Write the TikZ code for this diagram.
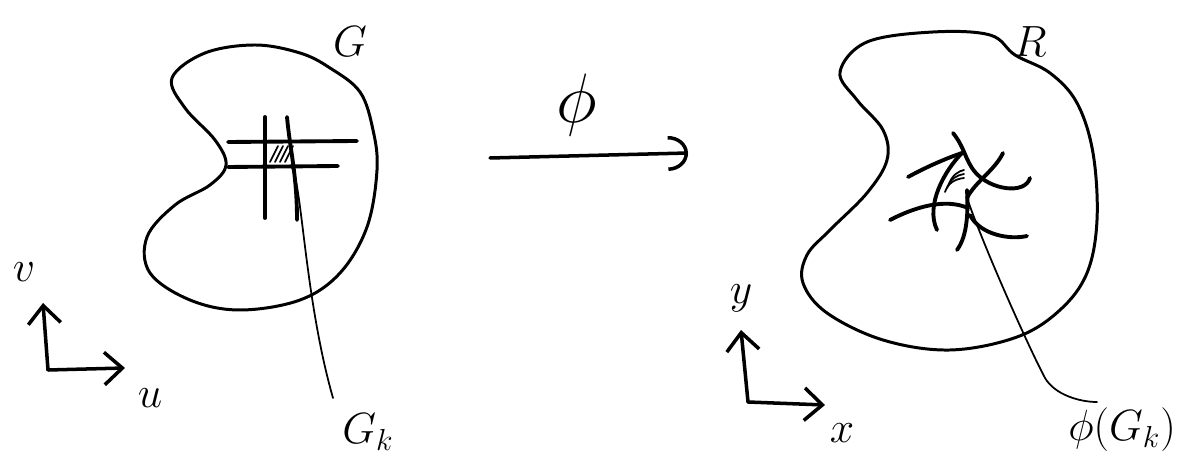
\documentclass[tikz,border=0pt]{standalone}
\usepackage{amsmath}
\usetikzlibrary{arrows.meta}

\tikzset{
  lbl/.style={font=\fontsize{26}{30}\selectfont},
  blob/.style={line width=1.7pt},
  gridln/.style={line width=2.2pt},
  thinln/.style={line width=1pt},
  axis/.style={line width=2pt,-{Straight Barb[length=3.6mm,width=6.5mm,line width=2pt]}}
}

\begin{document}
\begin{tikzpicture}[x=0.2mm,y=-0.2mm,line cap=round,line join=round]
\useasboundingbox (0,0) rectangle (1200,466);

% region G in the (u,v) plane
\draw[blob] plot[smooth cycle,tension=0.6] coordinates {
  (172,78) (205,53) (255,45) (300,53) (330,68) (360,92) (373,130) (377,170)
  (367,227) (340,273) (300,300) (240,310) (190,300) (150,273) (147,237)
  (175,205) (210,185) (226,165) (215,140) (185,108)};
\node[lbl] (G) at (350,42) {$G$};

\draw[gridln] (228,142) -- (357,141);
\draw[gridln] (228,167) -- (338,166);
\draw[gridln] (265,117) -- (265,218);
\draw[gridln] (287,117) .. controls (290,150) and (297,175) .. (297,220);
\foreach \s in {0,1,2,3}
  \draw[thinln] (270+5*\s,162) -- (278+5*\s,146);

\coordinate (gk) at (292,168);
\node[lbl] (Gk) at (368,432) {$G_k$};
\draw[thinln] (gk) .. controls (302,185) and (305,300) .. (333,398);

\coordinate (uv) at (48,370);
\draw[axis] (uv) -- (43,303);
\draw[axis] (uv) -- (125,368);
\node[lbl] (v) at (24,272) {$v$};
\node[lbl] (u) at (150,398) {$u$};

% the map
\coordinate (mapA) at (490,158);
\coordinate (mapB) at (688,153);
\draw[line width=2pt,-{Arc Barb[length=4mm,width=7mm,line width=2pt]}] (mapA) -- (mapB);
\node[lbl] (phi) at (577,105) {\scalebox{1.6}{$\phi$}};

% region R in the (x,y) plane
\draw[blob] plot[smooth cycle,tension=0.6] coordinates {
  (840,72) (867,42) (933,32) (990,35) (1015,55) (1050,73) (1077,103)
  (1093,153) (1097,220) (1087,273) (1060,310) (1017,337) (950,350)
  (883,340) (827,313) (803,283) (807,255) (830,230) (867,193) (887,160)
  (883,130) (857,100)};
\node[lbl] (R) at (1030,42) {$R$};

\draw[gridln] (953,133) .. controls (965,148) and (965,160) .. (975,172)
  .. controls (990,190) and (1025,195) .. (1030,178);
\draw[gridln] (908,177) .. controls (930,165) and (950,157) .. (962,153);
\draw[gridln] (1003,153) .. controls (995,170) and (975,182) .. (967,198);
\draw[gridln] (890,220) .. controls (915,207) and (945,198) .. (968,208);
\draw[gridln] (962,153) .. controls (945,170) and (925,205) .. (937,230);
\draw[gridln] (967,190) .. controls (968,210) and (968,235) .. (957,250);
\draw[gridln] (970,215) .. controls (980,235) and (1010,240) .. (1027,236);
\foreach \s in {0,1,2}
  \draw[thinln] (945+2*\s,192-4*\s) .. controls (948+2*\s,183-4*\s) and (955+2*\s,179-4*\s) .. (964,178-4*\s);

\coordinate (pgk) at (967,198);
\node[lbl] (PGk) at (1122,430) {$\phi(G_k)$};
\draw[thinln] (pgk) .. controls (985,250) and (1030,350) .. (1045,378)
  .. controls (1055,395) and (1080,402) .. (1097,402);

\coordinate (xy) at (748,402);
\draw[axis] (xy) -- (741,330);
\draw[axis] (xy) -- (825,405);
\node[lbl] (y) at (741,298) {$y$};
\node[lbl] (x) at (842,433) {$x$};

\end{tikzpicture}
\end{document}
